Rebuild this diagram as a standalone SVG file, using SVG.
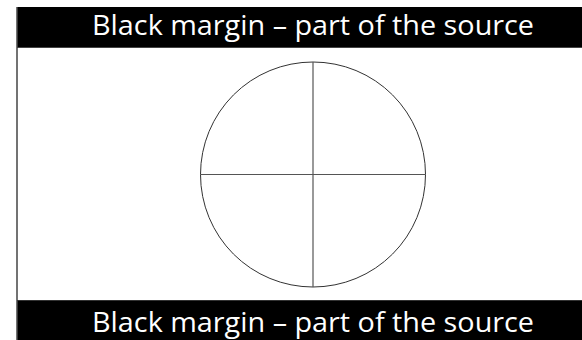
<svg xmlns="http://www.w3.org/2000/svg" width="582" height="340" viewBox="0 0 582 340">
  <style>
    .bar { fill: #000000; }
    .lbl { fill: #ffffff; font-family: "Open Sans", "Liberation Sans", sans-serif; font-size: 26.5px; }
    .edge { stroke: #444444; stroke-width: 1.5; fill: none; }
    .dial { stroke: #333333; stroke-width: 1; fill: none; }
    .cross { stroke: #555555; stroke-width: 1.2; }
  </style>
  <rect x="0" y="0" width="582" height="340" fill="#ffffff"/>
  <g id="frame">
    <line class="edge" x1="17" y1="7" x2="17" y2="340"/>
  </g>
  <g id="top-margin">
    <rect class="bar" x="17.5" y="7" width="565" height="41"/>
    <line x1="17.5" y1="47.5" x2="582" y2="47.5" stroke="#444444" stroke-width="1"/>
    <text class="lbl" x="92" y="34.5" textLength="442" lengthAdjust="spacingAndGlyphs">Black margin – part of the source</text>
  </g>
  <g id="bottom-margin">
    <rect class="bar" x="17.5" y="300" width="565" height="40"/>
    <line x1="17.5" y1="300.5" x2="582" y2="300.5" stroke="#333333" stroke-width="1"/>
    <text class="lbl" x="92" y="332" textLength="442" lengthAdjust="spacingAndGlyphs">Black margin – part of the source</text>
  </g>
  <g id="dial">
    <circle class="dial" cx="313" cy="174.5" r="112.5"/>
    <line class="cross" x1="200.5" y1="174.5" x2="425.5" y2="174.5"/>
    <line class="cross" x1="313" y1="62" x2="313" y2="287"/>
  </g>
</svg>
